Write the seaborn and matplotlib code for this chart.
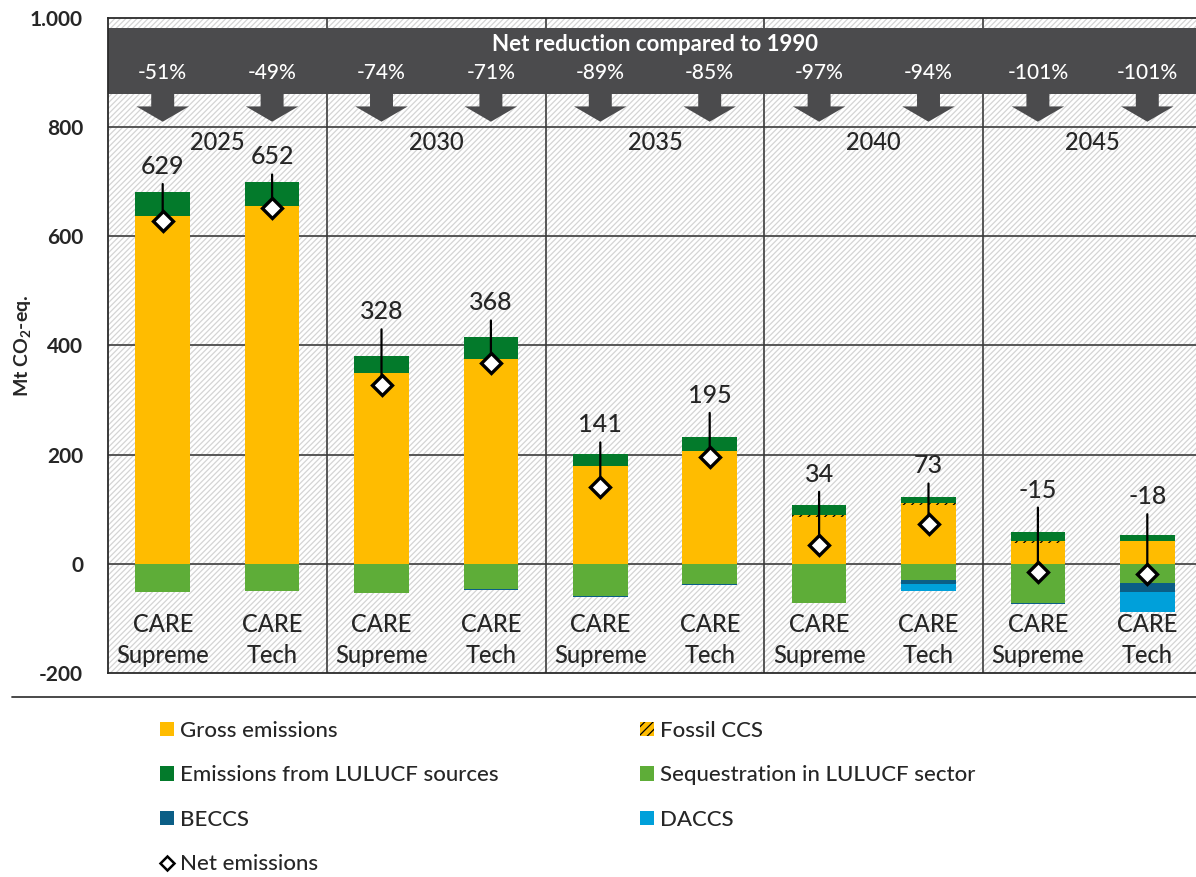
import matplotlib
matplotlib.use("Agg")
import matplotlib.pyplot as plt
from matplotlib.patches import Polygon, Rectangle, Patch
from matplotlib.lines import Line2D
import seaborn as sns
import pandas as pd
import numpy as np

# values (Mt CO2-eq.)
years = ["2025", "2030", "2035", "2040", "2045"]
scenarios = ["CARE\nSupreme", "CARE\nTech"]
gross = [637, 655, 350, 376, 179, 207, 86, 108, 39, 41]
fossil_ccs = [0, 0, 0, 0, 0, 0, 3, 3, 3, 0]
lulucf_sources = [44, 45, 31, 40, 23, 25, 18, 11, 16, 12]
sequestration = [-51, -49, -53, -47, -59, -37, -71, -30, -72, -35]
beccs = [0, 0, 0, -1, -1, -1, 0, -7, -1, -17]
daccs = [0, 0, 0, 0, 0, 0, -1, -12, 0, -37]
net = [629, 652, 328, 368, 141, 195, 34, 73, -15, -18]
reduction = ["-51%", "-49%", "-74%", "-71%", "-89%", "-85%", "-97%", "-94%", "-101%", "-101%"]
y_ticks = [-200, 0, 200, 400, 600, 800, 1000]
y_ticklabels = ["-200", "0", "200", "400", "600", "800", "1.000"]

# layout: how far (px) each net label sits above its diamond
label_lift = [54, 51, 73, 60, 62, 62, 71, 58, 82, 77]

GROSS_C = "#FFBC00"
LULUCF_SRC_C = "#037A2B"
SEQ_C = "#5EAD38"
BECCS_C = "#0B5E86"
DACCS_C = "#00A0DA"
BANNER_C = "#4B4B4D"
GRID_C = "#3C3C3C"
TXT_W = 500  # medium weight, closer to the heavy Calibri look

sns.set_theme(style="white")
plt.rcParams["font.family"] = ["Lato", "DejaVu Sans"]
plt.rcParams["mathtext.fontset"] = "custom"
plt.rcParams["mathtext.rm"] = "Lato"
plt.rcParams["mathtext.bf"] = "Lato:bold"
plt.rcParams["hatch.linewidth"] = 0.9

keys = [f"{y} {s}" for y in years for s in scenarios]
df = pd.DataFrame({
    "key": keys,
    "gross": gross,
    "fossil": fossil_ccs,
    "lulucf": lulucf_sources,
    "seq": sequestration,
    "beccs": beccs,
    "daccs": daccs,
    "net": net,
})
df["gross_fossil"] = df["gross"] + df["fossil"]
df["pos_total"] = df["gross_fossil"] + df["lulucf"]
df["seq_beccs"] = df["seq"] + df["beccs"]
df["neg_total"] = df["seq_beccs"] + df["daccs"]

W, H = 1196, 877
fig = plt.figure(figsize=(W / 100, H / 100), dpi=100)
ax = fig.add_axes([108 / W, 1 - 673 / H, 1088 / W, 655 / H])

# hatched background
ax.add_patch(Rectangle((0, 0), 1, 1, transform=ax.transAxes, facecolor="white",
                       edgecolor="#d4d4d4", hatch="//////", lw=0, zorder=0))

bar_kw = dict(data=df, x="key", order=keys, width=0.5, saturation=1,
              errorbar=None, ax=ax, linewidth=0, zorder=3)
# stacked bars drawn as overlapping cumulative totals
sns.barplot(y="pos_total", color=LULUCF_SRC_C, **bar_kw)
sns.barplot(y="gross_fossil", color=GROSS_C, hatch="////", edgecolor="black", **bar_kw)
sns.barplot(y="gross", color=GROSS_C, **bar_kw)
sns.barplot(y="neg_total", color=DACCS_C, **bar_kw)
sns.barplot(y="seq_beccs", color=BECCS_C, **bar_kw)
sns.barplot(y="seq", color=SEQ_C, **bar_kw)

xpos = np.arange(len(keys))
ax.set_xlim(-0.5, -0.5 + 1088 / 109.4)
ax.set_ylim(-200, 1000)

for yv in [0, 200, 400, 600, 800]:
    ax.axhline(yv, color=GRID_C, lw=1.2, zorder=1)
for xv in [1.5, 3.5, 5.5, 7.5]:
    ax.axvline(xv, color=GRID_C, lw=1.2, zorder=1)

# banner with arrows
ax.axhspan(860, 982, color=BANNER_C, lw=0, zorder=2)
for i in xpos:
    arrow = [(i - 0.105, 861), (i - 0.105, 838), (i - 0.24, 838), (i, 810),
             (i + 0.24, 838), (i + 0.105, 838), (i + 0.105, 861)]
    ax.add_patch(Polygon(arrow, closed=True, color=BANNER_C, lw=0, zorder=2))
    ax.text(i, 899, reduction[i], color="white", fontsize=15, fontweight=TXT_W,
            ha="center", va="center", zorder=4)
ax.text(4.5, 952, "Net reduction compared to 1990", color="white", fontsize=16,
        fontweight="bold", ha="center", va="center", zorder=4)

for g, yr in enumerate(years):
    ax.text(2 * g + 0.5, 772, yr, fontsize=17, fontweight=TXT_W, ha="center",
            va="center", zorder=4)

for i in xpos:
    ax.text(i, -139, scenarios[i % 2], fontsize=17, fontweight=TXT_W, ha="center",
            va="center", linespacing=1.4, zorder=4)

# net emissions with leader lines and labels
for i in xpos:
    ax.annotate(str(net[i]), xy=(i, net[i]), xytext=(0, label_lift[i]),
                textcoords="offset pixels", ha="center", va="center", fontsize=18,
                fontweight=TXT_W,
                arrowprops=dict(arrowstyle="-", color="black", lw=1.6,
                                shrinkA=2, shrinkB=0), zorder=5)
ax.plot(xpos, net, linestyle="none", marker="D", markersize=10, mfc="white",
        mec="black", mew=2.4, zorder=6)

ax.set_xlabel("")
ax.set_xticks([])
ax.set_yticks(y_ticks)
ax.set_yticklabels(y_ticklabels, fontsize=15, fontweight="bold")
ax.tick_params(axis="y", length=0, pad=18)
ax.set_ylabel(r"Mt CO$_\mathbf{2}$-eq.", fontsize=14, fontweight="bold", labelpad=-3)
for sp in ax.spines.values():
    sp.set_color("#2a2a2a")
    sp.set_linewidth(1.3)
ax.spines["right"].set_visible(False)

# separator between chart and legend
fig.add_artist(Line2D([12 / W, 1], [1 - 697 / H] * 2, color="#3a3a3a", lw=1.3))

def square(c, **kw):
    return Patch(facecolor=c, lw=0, **kw)

leg_kw = dict(loc="upper left", frameon=False, labelspacing=1.1,
              prop={"size": 16, "weight": TXT_W},
              handlelength=0.62, handleheight=0.62, handletextpad=0.3,
              borderpad=0, borderaxespad=0)
h1 = [square(GROSS_C), square(LULUCF_SRC_C), square(BECCS_C),
      Line2D([], [], linestyle="none", marker="D", markersize=7.5, mfc="white",
             mec="black", mew=1.8)]
l1 = ["Gross emissions", "Emissions from LULUCF sources", "BECCS", "Net emissions"]
h2 = [Patch(facecolor=GROSS_C, edgecolor="black", hatch="////", lw=0),
      square(SEQ_C), square(DACCS_C)]
l2 = ["Fossil CCS", "Sequestration in LULUCF sector", "DACCS"]
fig.legend(h1, l1, bbox_to_anchor=(160 / W, 1 - 721 / H), **leg_kw)
fig.legend(h2, l2, bbox_to_anchor=(640 / W, 1 - 721 / H), **leg_kw)

fig.savefig("out.png", dpi=100)
